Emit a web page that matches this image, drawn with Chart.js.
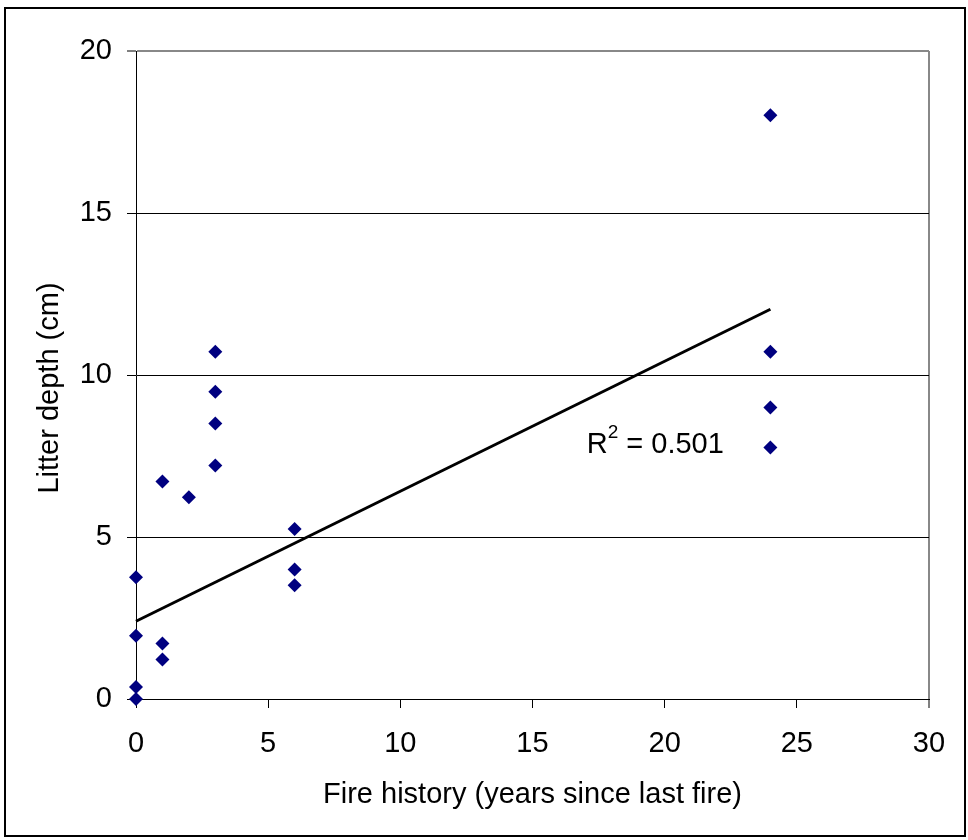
<!DOCTYPE html>
<html>
<head>
<meta charset="utf-8">
<script src="https://cdn.jsdelivr.net/npm/chart.js@4/dist/chart.umd.min.js"></script>
<style>
  html, body { margin: 0; padding: 0; background: #fff; }
  #wrap { position: relative; width: 968px; height: 840px; }
</style>
</head>
<body>
<div id="wrap"><canvas id="chart" width="968" height="840"></canvas></div>
<script>
// values
const fireYears   = [0, 0, 0, 0, 1, 1, 1, 2, 3, 3, 3, 3, 6, 6, 6, 24, 24, 24, 24];
const litterDepth = [3.76, 1.95, 0.37, 0, 6.71, 1.71, 1.22, 6.23, 10.72, 9.48, 8.50, 7.21, 5.25, 4.0, 3.51, 18.02, 10.72, 9.0, 7.76];

// trend line end points (as drawn)
const trendX = [0, 24];
const trendY = [2.4, 12.03];

const xRange = [0, 30];
const yRange = [0, 20];
const tickStep = 5;

const xTitle = 'Fire history (years since last fire)';
const yTitle = 'Litter depth (cm)';
const r2Parts = ['R', '2', ' = 0.501'];
const r2At = [17.05, 7.58];

const FONT = '"Liberation Sans", Arial, sans-serif';

let points = fireYears.map((x, i) => ({ x: x, y: litterDepth[i] }));
let trend = trendX.map((x, i) => ({ x: x, y: trendY[i] }));

// outer frame, y title and R² text
const extras = {
    id: 'extras',
    afterDraw(chart) {
        let ctx = chart.ctx;
        ctx.save();
        ctx.strokeStyle = '#000';
        ctx.lineWidth = 2;
        ctx.strokeRect(5, 8, 960, 828);

        // y axis title
        ctx.fillStyle = '#000';
        ctx.font = '29px ' + FONT;
        ctx.translate(58, 388);
        ctx.rotate(-Math.PI / 2);
        ctx.textAlign = 'center';
        ctx.textBaseline = 'alphabetic';
        ctx.fillText(yTitle, 0, 0);
        ctx.restore();

        // R² label
        let xs = chart.scales.x, ys = chart.scales.y;
        let px = xs.getPixelForValue(r2At[0]);
        let py = ys.getPixelForValue(r2At[1]);
        ctx.save();
        ctx.fillStyle = '#000';
        ctx.textAlign = 'left';
        ctx.textBaseline = 'alphabetic';
        ctx.font = '29px ' + FONT;
        ctx.fillText(r2Parts[0], px, py);
        px += ctx.measureText(r2Parts[0]).width;
        ctx.font = '19px ' + FONT;
        ctx.fillText(r2Parts[1], px, py - 15);
        px += ctx.measureText(r2Parts[1]).width;
        ctx.font = '29px ' + FONT;
        ctx.fillText(r2Parts[2], px, py);
        ctx.restore();
    }
};

new Chart(document.getElementById('chart'), {
    type: 'scatter',
    data: {
        datasets: [
            {
                type: 'line',
                data: trend,
                borderColor: '#000',
                borderWidth: 3,
                pointRadius: 0,
                fill: false,
                clip: false
            },
            {
                data: points,
                pointStyle: 'rectRot',
                pointRadius: 7,
                pointHoverRadius: 7,
                backgroundColor: '#000080',
                borderColor: '#000080',
                borderWidth: 0,
                clip: false
            }
        ]
    },
    options: {
        responsive: false,
        animation: false,
        devicePixelRatio: 1,
        layout: { padding: { left: 0, top: 51, right: 39, bottom: 0 } },
        plugins: {
            legend: { display: false },
            tooltip: { enabled: false }
        },
        scales: {
            x: {
                type: 'linear',
                min: xRange[0],
                max: xRange[1],
                afterFit: (s) => { s.height = 141; },
                ticks: {
                    stepSize: tickStep,
                    color: '#000',
                    padding: 19,
                    maxRotation: 0,
                    font: { family: FONT, size: 29 }
                },
                grid: {
                    drawOnChartArea: true,
                    color: (c) => c.tick && c.tick.value === xRange[1] ? '#888' : 'rgba(0,0,0,0)',
                    lineWidth: (c) => c.tick && c.tick.value === xRange[1] ? 2 : 1,
                    tickColor: '#000',
                    tickWidth: 1,
                    tickLength: 9
                },
                border: { color: '#000', width: 1 },
                title: {
                    display: true,
                    text: xTitle,
                    color: '#000',
                    font: { family: FONT, size: 29 },
                    padding: { top: 0, bottom: 28 }
                }
            },
            y: {
                type: 'linear',
                min: yRange[0],
                max: yRange[1],
                afterFit: (s) => { s.width = 136; },
                ticks: {
                    stepSize: tickStep,
                    color: '#000',
                    padding: 15,
                    font: { family: FONT, size: 29 }
                },
                grid: {
                    color: (c) => c.tick && c.tick.value === yRange[1] ? '#888' : '#000',
                    lineWidth: (c) => c.tick && c.tick.value === yRange[1] ? 2 : 1,
                    tickColor: '#000',
                    tickWidth: 1,
                    tickLength: 9
                },
                border: { color: '#000', width: 1 }
            }
        }
    },
    plugins: [extras]
});
</script>
</body>
</html>
